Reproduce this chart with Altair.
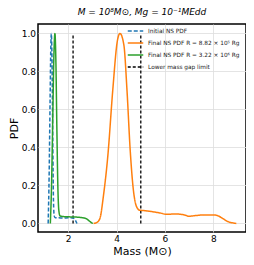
import altair as alt
import pandas as pd

# ---- data ----
init_x = [1.17, 1.21, 1.25, 1.28, 1.30, 1.33, 1.36, 1.39, 1.42, 1.46, 1.6, 1.8, 2.0, 2.2, 2.28, 2.33, 2.36]
init_y = [0.0, 0.25, 0.65, 0.93, 1.0, 0.85, 0.45, 0.12, 0.04, 0.03, 0.03, 0.028, 0.03, 0.028, 0.02, 0.008, 0.0]

green_x = [1.26, 1.31, 1.36, 1.41, 1.45, 1.49, 1.53, 1.57, 1.61, 1.66, 1.8, 2.0, 2.2, 2.4, 2.6, 2.75, 2.85, 2.95, 3.02]
green_y = [0.0, 0.2, 0.55, 0.9, 1.0, 0.85, 0.5, 0.2, 0.07, 0.04, 0.036, 0.035, 0.034, 0.033, 0.03, 0.025, 0.015, 0.005, 0.0]

orange_x = [3.05, 3.15, 3.25, 3.33, 3.44, 3.64, 3.84, 4.03, 4.14, 4.30, 4.43, 4.56, 4.69, 4.82, 4.95,
            5.2, 5.48, 5.8, 6.07, 6.4, 6.8, 7.0, 7.3, 7.6, 8.0, 8.2, 8.4, 8.6, 8.8, 8.95]
orange_y = [0.0, 0.003, 0.012, 0.035, 0.13, 0.36, 0.70, 0.96, 1.0, 0.94, 0.70, 0.39, 0.18, 0.09, 0.07,
            0.067, 0.062, 0.055, 0.048, 0.05, 0.045, 0.038, 0.042, 0.045, 0.045, 0.04, 0.025, 0.01, 0.003, 0.0]

gap_limits = [2.2, 5.0]

labels = [
    "Initial NS PDF",
    "Final NS PDF  R = 8.82 × 10⁵ Rg",
    "Final NS PDF  R = 3.22 × 10⁶ Rg",
    "Lower mass gap limit",
]
colors = ["#1f77b4", "#ff7f0e", "#2ca02c", "#000000"]
dashes = [[4, 2], [1, 0], [1, 0], [3, 2]]

rows = []
for i, (xs, ys) in enumerate([(init_x, init_y), (orange_x, orange_y), (green_x, green_y)]):
    for j, (a, b) in enumerate(zip(xs, ys)):
        rows.append({"mass": a, "pdf": b, "series": labels[i], "order": j})
curves = pd.DataFrame(rows)
rules = pd.DataFrame({"mass": gap_limits, "y0": [0.0, 0.0], "y1": [1.0, 1.0], "series": [labels[3]] * 2})

xscale = alt.Scale(domain=[0.75, 9.35], nice=False, zero=False)
yscale = alt.Scale(domain=[-0.045, 1.05], nice=False, zero=False)
cscale = alt.Scale(domain=labels, range=colors)
dscale = alt.Scale(domain=labels, range=dashes)

legend = alt.Legend(
    title=None, orient="none", legendX=89, legendY=2,
    symbolType="stroke", symbolSize=240, symbolStrokeWidth=1.5,
    labelFontSize=5.8, labelFont="DejaVu Sans", labelColor="#222",
    clipHeight=10, rowPadding=2, labelOffset=4, padding=0,
    fillColor="transparent", strokeColor="transparent",
)

lines = alt.Chart(curves).mark_line(strokeWidth=1.5, interpolate="monotone").encode(
    x=alt.X("mass:Q", scale=xscale, axis=alt.Axis(
        title="Mass (M⊙)", values=[2, 4, 6, 8], format="d")),
    y=alt.Y("pdf:Q", scale=yscale, axis=alt.Axis(
        title="PDF", values=[0, 0.2, 0.4, 0.6, 0.8, 1.0], format=".1f")),
    color=alt.Color("series:N", scale=cscale, legend=legend),
    strokeDash=alt.StrokeDash("series:N", scale=dscale, legend=legend),
    order="order:Q",
)

vlines = alt.Chart(rules).mark_rule(strokeWidth=1.3).encode(
    x="mass:Q",
    y="y0:Q",
    y2="y1:Q",
    color=alt.Color("series:N", scale=cscale, legend=legend),
    strokeDash=alt.StrokeDash("series:N", scale=dscale, legend=legend),
)

chart = alt.layer(vlines, lines).properties(
    width=238, height=249, padding=0,
    autosize=alt.AutoSizeParams(type="fit", contains="padding"),
    title=alt.TitleParams("M = 10⁸M⊙,  \u1E40g = 10⁻¹MEdd", fontSize=9, font="DejaVu Sans",
                          fontWeight="normal", fontStyle="italic", offset=7, color="#000"),
).configure_view(
    stroke="#000", strokeWidth=1.5
).configure_axis(
    grid=True, gridColor="#dddddd", gridWidth=0.8, domain=False,
    tickSize=0, labelPadding=2.5, labelFontSize=9, labelFont="DejaVu Sans", labelColor="#000",
    titleFontSize=11, titleFont="DejaVu Sans", titleFontWeight="normal", titleColor="#000",
    titlePadding=2,
)

chart.save("out.html", embed_options={"renderer": "svg", "actions": False})
